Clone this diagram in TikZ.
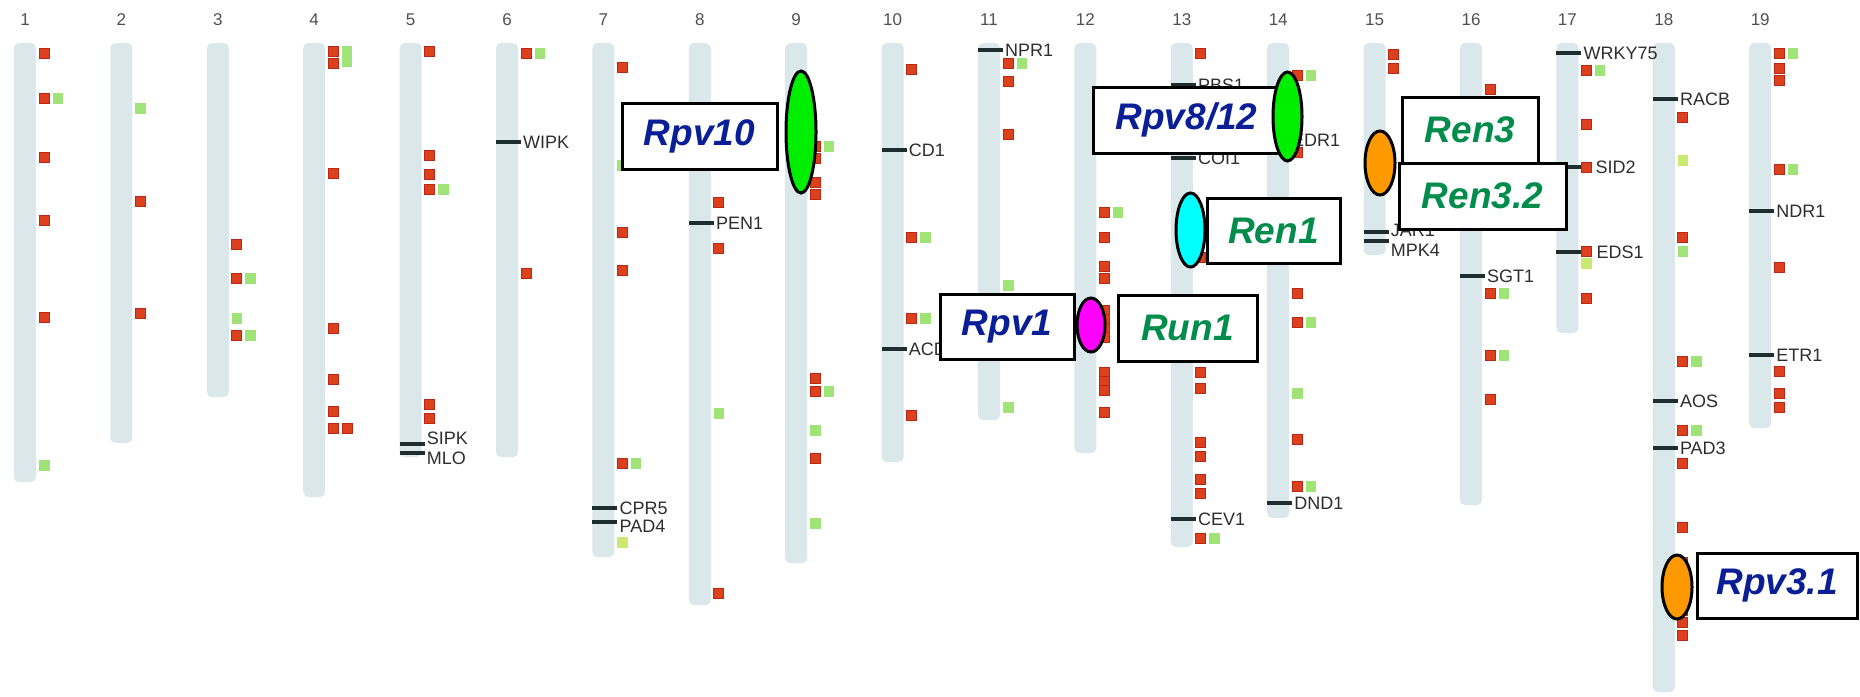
\documentclass[tikz,border=0pt]{standalone}
\usepackage{fontspec}
\setmainfont{Liberation Sans}
\usetikzlibrary{shapes.geometric}
\definecolor{chrom}{RGB}{218,231,235}
\definecolor{mred}{RGB}{220,64,28}
\definecolor{mredd}{RGB}{185,40,20}
\definecolor{mgreen}{RGB}{160,228,120}
\definecolor{myel}{RGB}{205,232,110}
\definecolor{rpvblue}{RGB}{10,30,150}
\definecolor{rengreen}{RGB}{0,140,75}
\definecolor{tickc}{RGB}{30,45,45}
\definecolor{labc}{RGB}{45,45,45}
\definecolor{numc}{RGB}{80,80,80}
\definecolor{qgreen}{RGB}{0,238,0}
\definecolor{qcyan}{RGB}{0,255,255}
\definecolor{qmagenta}{RGB}{255,0,255}
\definecolor{qorange}{RGB}{255,153,0}
\begin{document}
\begin{tikzpicture}[x=1pt,y=-1pt,
  chrbar/.style={fill=chrom, rounded corners=5pt},
  redmk/.style={fill=mred, draw=mredd, line width=0.8pt},
  grnmk/.style={fill=mgreen},
  yelmk/.style={fill=myel},
  tickline/.style={draw=tickc, line width=3.5pt},
  genelab/.style={anchor=west, inner sep=0pt, text=labc, font=\fontsize{18}{18}\selectfont},
  chrnum/.style={text=numc, inner sep=0pt, font=\fontsize{17}{17}\selectfont},
  qtlbox/.style={draw=black, fill=white, line width=3pt, inner sep=0pt, font=\fontsize{37}{37}\selectfont\bfseries\itshape},
  rpvtext/.style={text=rpvblue},
  rentext/.style={text=rengreen},
  qtlell/.style={ellipse, draw=black, line width=3pt, inner sep=0pt},
]
\useasboundingbox (0,0) rectangle (1860,696);
% chromosomes and numbers
\foreach \i/\b in {1/482,2/443,3/397,4/497,5/457,6/457,7/557,8/605,9/563,10/462,11/420,12/453,13/547,14/518,15/255,16/505,17/333,18/692,19/428}{
  \pgfmathsetmacro\c{25+96.4*(\i-1)}
  \node[chrnum] (n\i) at (\c,20) {\i};
  \path[chrbar] (\c-11,43) rectangle (\c+11,\b);
}
% red markers, first column
\foreach \i/\y in {1/53,1/98,1/157,1/220,1/317,
  2/201,2/313,
  3/244,3/278,3/335,
  4/51,4/63,4/173,4/328,4/379,4/411,4/428,
  5/51,5/155,5/174,5/189,5/404,5/418,
  6/53,6/273,
  7/67,7/232,7/270,7/463,
  8/202,8/248,8/593,
  9/146,9/158,9/182,9/194,9/378,9/391,9/458,
  10/69,10/237,10/318,10/415,
  11/63,11/81,11/134,
  12/212,12/237,12/266,12/278,12/310,12/319,12/328,12/337,12/372,12/381,12/390,12/412,
  13/53,13/257,13/372,13/388,13/442,13/456,13/479,13/493,13/538,
  14/75,14/152,14/293,14/322,14/439,14/486,
  15/54,15/68,
  16/89,16/293,16/355,16/399,
  17/70,17/124,17/167,17/251,17/298,
  18/117,18/237,18/361,18/430,18/463,18/527,18/562,18/575,18/610,18/622,18/635,
  19/53,19/68,19/80,19/169,19/267,19/371,19/393,19/407}{
  \pgfmathsetmacro\c{25+96.4*(\i-1)}
  \path[redmk] (\c+14,\y-5) rectangle (\c+24,\y+5);
}
% red markers, second column
\foreach \i/\y in {4/428}{
  \pgfmathsetmacro\c{25+96.4*(\i-1)}
  \path[redmk] (\c+28,\y-5) rectangle (\c+38,\y+5);
}
% green markers, second column
\foreach \i/\y in {1/98,3/278,3/335,4/51,4/61,5/189,6/53,7/463,9/146,9/391,10/237,10/318,11/63,12/212,13/538,14/75,14/322,14/486,16/293,16/355,17/70,18/361,18/430,19/53,19/169}{
  \pgfmathsetmacro\c{25+96.4*(\i-1)}
  \path[grnmk] (\c+27.5,\y-5.5) rectangle (\c+38,\y+5.5);
}
% green markers, first column
\foreach \i/\y in {1/465,2/108,3/318,7/165,8/413,9/430,9/523,11/285,11/407,14/393,18/251}{
  \pgfmathsetmacro\c{25+96.4*(\i-1)}
  \path[grnmk] (\c+14,\y-5.5) rectangle (\c+24.5,\y+5.5);
}
% yellow-green markers
\foreach \i/\y in {7/542,17/263,18/160}{
  \pgfmathsetmacro\c{25+96.4*(\i-1)}
  \path[yelmk] (\c+14,\y-5.5) rectangle (\c+24.5,\y+5.5);
}
% gene ticks and labels
\foreach \i/\y/\ly/\dx/\t in {5/444/438/16/SIPK,5/453/458/16/MLO,6/142/142/16/WIPK,
  7/508/508/16/CPR5,7/522/526/16/PAD4,8/223/223/16/PEN1,10/150/150/16/CD1,10/349/349/16/ACD,
  11/50/50/16/NPR1,13/85/85/16/PBS1,13/158/158/16/COI1,13/519/519/16/CEV1,14/503/503/16/DND1,
  15/232/230/16/JAR1,15/241/250/16/MPK4,16/276/276/16/SGT1,17/53/53/16/WRKY75,17/167/167/28/SID2,
  17/252/252/29/EDS1,18/99/99/16/RACB,18/401/401/16/AOS,18/448/448/16/PAD3,19/211/211/16/NDR1,19/355/355/16/ETR1}{
  \pgfmathsetmacro\c{25+96.4*(\i-1)}
  \draw[tickline] (\c-11,\y) -- (\c+14,\y);
  \node[genelab] (g-\t) at (\c+\dx,\ly) {\t};
}
\node[genelab] (g-EDR1) at (1292,140) {EDR1};
% QTL boxes
\node[qtlbox, rpvtext, minimum width=155pt, minimum height=66pt] (bRpv10) at (699.5,136) {Rpv10};
\node[qtlbox, rpvtext, minimum width=187pt, minimum height=66pt] (bRpv812) at (1186.5,120) {Rpv8/12};
\node[qtlbox, rentext, minimum width=133pt, minimum height=65pt] (bRen1) at (1273.5,230.5) {Ren1};
\node[qtlbox, rpvtext, minimum width=134pt, minimum height=65pt] (bRpv1) at (1007,326.5) {Rpv1};
\node[qtlbox, rentext, minimum width=139pt, minimum height=66pt] (bRun1) at (1187.5,328) {Run1};
\node[qtlbox, rentext, minimum width=136pt, minimum height=66pt] (bRen3) at (1470,130) {Ren3};
\node[qtlbox, rentext, minimum width=167pt, minimum height=66pt] (bRen32) at (1482.5,196) {Ren3.2};
\node[qtlbox, rpvtext, minimum width=160pt, minimum height=65pt] (bRpv31) at (1777,585.5) {Rpv3.1};
% QTL ellipses
\node[qtlell, fill=qgreen, minimum width=30pt, minimum height=122pt] (eRpv10) at (801,132) {};
\node[qtlell, fill=qgreen, minimum width=29pt, minimum height=89pt] (eRpv812) at (1287.5,116.5) {};
\node[qtlell, fill=qcyan, minimum width=29pt, minimum height=74pt] (eRen1) at (1190.5,230) {};
\node[qtlell, fill=qmagenta, minimum width=28pt, minimum height=54pt] (eRpv1) at (1091,325) {};
\node[qtlell, fill=qorange, minimum width=30pt, minimum height=64pt] (eRen3) at (1380,163) {};
\node[qtlell, fill=qorange, minimum width=30pt, minimum height=64pt] (eRpv31) at (1677,587) {};
\end{tikzpicture}
\end{document}
